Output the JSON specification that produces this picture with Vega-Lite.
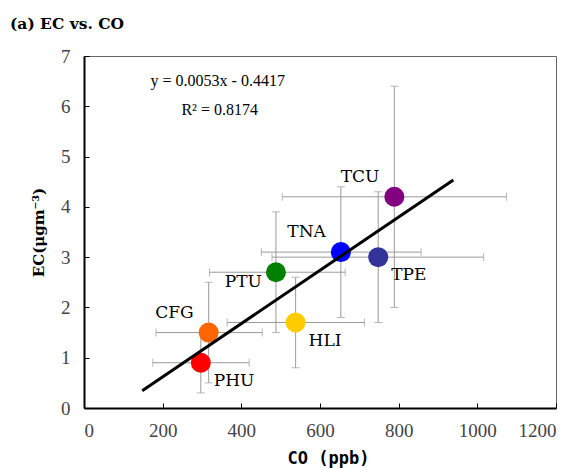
{
  "$schema": "https://vega.github.io/schema/vega-lite/v6.json",
  "width": 472,
  "height": 352,
  "autosize": "none",
  "padding": {"left": 84, "top": 56, "right": 23, "bottom": 60},
  "background": "white",
  "title": {"text": "(a) EC vs. CO", "anchor": "start", "frame": "group", "dx": -74, "offset": 15, "font": "DejaVu Serif", "fontWeight": "bold", "fontSize": 15.5, "color": "#000"},
  "config": {
    "view": {"stroke": "#666", "strokeWidth": 1},
    "axis": {"grid": false, "domainColor": "#000", "domainWidth": 2, "tickColor": "#000", "tickWidth": 1, "tickSize": -5, "labelFont": "Liberation Serif", "labelFontSize": 19, "labelColor": "#444", "titleColor": "#000"},
    "axisX": {"labelPadding": 18, "titlePadding": 10, "format": "d", "titleFont": "DejaVu Sans Mono", "titleFontWeight": "bold", "titleFontSize": 17, "titleX": 244},
    "axisY": {"labelPadding": 19, "titleFont": "DejaVu Serif", "titleFontWeight": "bold", "titleFontSize": 15, "titleX": -38}
  },
  "datasets": {
    "sites": [
      {"site": "PHU", "co": 297, "ec": 0.9, "co_lo": 175, "co_hi": 420, "ec_lo": 0.3, "ec_hi": 1.5},
      {"site": "CFG", "co": 317, "ec": 1.5, "co_lo": 183, "co_hi": 453, "ec_lo": 0.5, "ec_hi": 2.5},
      {"site": "PTU", "co": 488, "ec": 2.7, "co_lo": 319, "co_hi": 664, "ec_lo": 1.5, "ec_hi": 3.9},
      {"site": "HLI", "co": 538, "ec": 1.7, "co_lo": 364, "co_hi": 713, "ec_lo": 0.8, "ec_hi": 2.6},
      {"site": "TNA", "co": 653, "ec": 3.1, "co_lo": 451, "co_hi": 857, "ec_lo": 1.8, "ec_hi": 4.4},
      {"site": "TPE", "co": 748, "ec": 3.0, "co_lo": 478, "co_hi": 1016, "ec_lo": 1.7, "ec_hi": 4.3},
      {"site": "TCU", "co": 789, "ec": 4.2, "co_lo": 504, "co_hi": 1074, "ec_lo": 2.0, "ec_hi": 6.4}
    ],
    "fit": [
      {"co": 148, "ec": 0.343},
      {"co": 939, "ec": 4.535}
    ],
    "eq": [
      {"line": "y = 0.0053x - 0.4417", "co": 340, "ec": 6.5},
      {"line": "R² = 0.8174", "co": 345, "ec": 5.93}
    ]
  },
  "layer": [
    {
      "data": {"name": "sites"},
      "mark": {"type": "errorbar", "color": "#9a9a9a", "ticks": {"size": 8}, "rule": {"strokeWidth": 1}},
      "encoding": {
        "x": {"field": "co_lo", "type": "quantitative", "scale": {"domain": [0, 1200], "nice": false}, "axis": {"values": [0, 200, 400, 600, 800, 1000, 1200]}, "title": "CO (ppb)"},
        "x2": {"field": "co_hi"},
        "y": {"field": "ec", "type": "quantitative", "scale": {"domain": [0, 7], "nice": false}, "axis": {"values": [0, 1, 2, 3, 4, 5, 6, 7]}, "title": "EC(μgm⁻³)"}
      }
    },
    {
      "data": {"name": "sites"},
      "mark": {"type": "errorbar", "color": "#9a9a9a", "ticks": {"size": 8}, "rule": {"strokeWidth": 1}},
      "encoding": {
        "y": {"field": "ec_lo", "type": "quantitative", "title": "EC(μgm⁻³)"},
        "y2": {"field": "ec_hi"},
        "x": {"field": "co", "type": "quantitative", "title": "CO (ppb)"}
      }
    },
    {
      "data": {"name": "sites"},
      "mark": {"type": "circle", "size": 400, "opacity": 1},
      "encoding": {
        "x": {"field": "co", "type": "quantitative", "title": "CO (ppb)"},
        "y": {"field": "ec", "type": "quantitative", "title": "EC(μgm⁻³)"},
        "color": {"field": "site", "type": "nominal", "legend": null, "scale": {"domain": ["PHU", "CFG", "PTU", "HLI", "TNA", "TPE", "TCU"], "range": ["#ff0000", "#ff6600", "#008000", "#ffcc00", "#0000ff", "#333399", "#800080"]}}
      }
    },
    {
      "data": {"name": "fit"},
      "mark": {"type": "line", "color": "#000", "strokeWidth": 3},
      "encoding": {
        "x": {"field": "co", "type": "quantitative", "title": "CO (ppb)"},
        "y": {"field": "ec", "type": "quantitative", "title": "EC(μgm⁻³)"}
      }
    },
    {
      "data": {"name": "sites"},
      "transform": [{"filter": {"field": "site", "oneOf": ["PHU", "HLI", "TPE"]}}],
      "mark": {"type": "text", "align": "left", "baseline": "middle", "dx": 13, "dy": 18, "font": "DejaVu Serif", "fontSize": 17, "color": "#000"},
      "encoding": {
        "x": {"field": "co", "type": "quantitative", "title": "CO (ppb)"},
        "y": {"field": "ec", "type": "quantitative", "title": "EC(μgm⁻³)"},
        "text": {"field": "site"}
      }
    },
    {
      "data": {"name": "sites"},
      "transform": [{"filter": {"field": "site", "oneOf": ["CFG", "TNA", "TCU"]}}],
      "mark": {"type": "text", "align": "right", "baseline": "middle", "dx": -15, "dy": -20, "font": "DejaVu Serif", "fontSize": 17, "color": "#000"},
      "encoding": {
        "x": {"field": "co", "type": "quantitative", "title": "CO (ppb)"},
        "y": {"field": "ec", "type": "quantitative", "title": "EC(μgm⁻³)"},
        "text": {"field": "site"}
      }
    },
    {
      "data": {"name": "sites"},
      "transform": [{"filter": {"field": "site", "oneOf": ["PTU"]}}],
      "mark": {"type": "text", "align": "right", "baseline": "middle", "dx": -14, "dy": 10, "font": "DejaVu Serif", "fontSize": 17, "color": "#000"},
      "encoding": {
        "x": {"field": "co", "type": "quantitative", "title": "CO (ppb)"},
        "y": {"field": "ec", "type": "quantitative", "title": "EC(μgm⁻³)"},
        "text": {"field": "site"}
      }
    },
    {
      "data": {"name": "eq"},
      "mark": {"type": "text", "align": "center", "baseline": "middle", "font": "Liberation Serif", "fontSize": 16, "color": "#000"},
      "encoding": {
        "x": {"field": "co", "type": "quantitative", "title": "CO (ppb)"},
        "y": {"field": "ec", "type": "quantitative", "title": "EC(μgm⁻³)"},
        "text": {"field": "line"}
      }
    }
  ]
}
